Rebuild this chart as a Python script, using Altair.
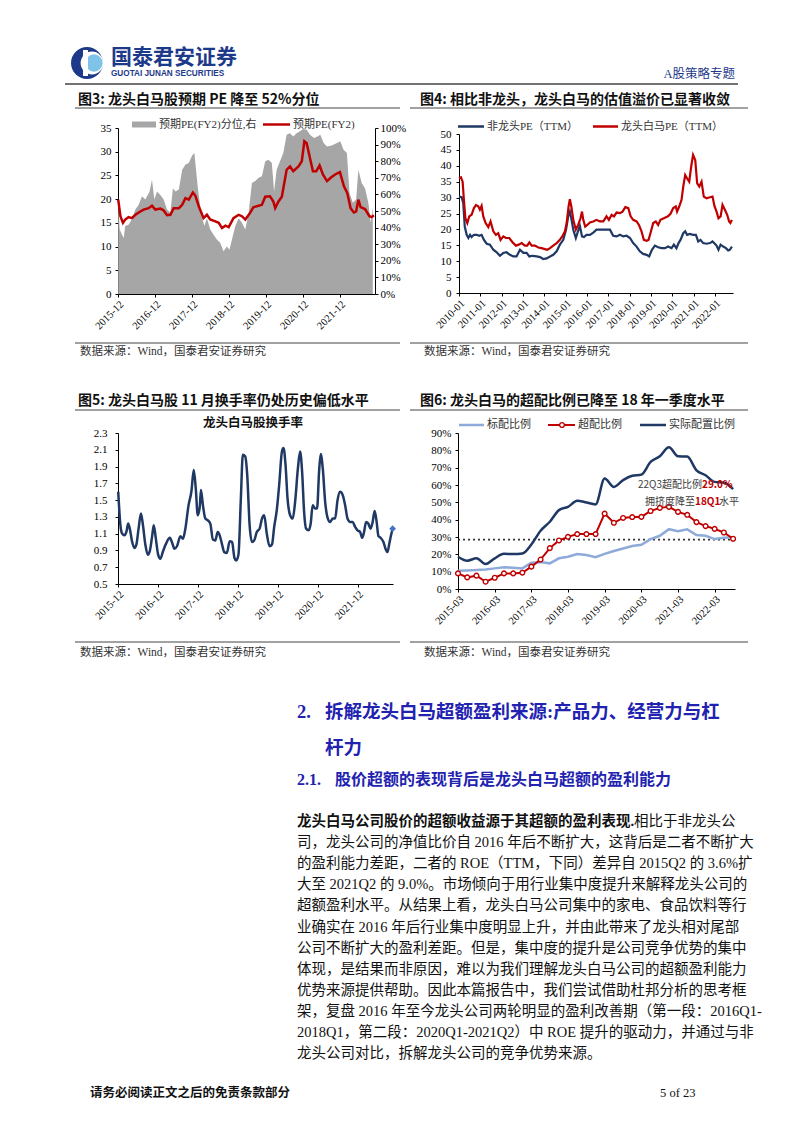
import altair as alt
import pandas as pd

SERIF = "Liberation Serif, Noto Sans CJK SC"
SANS = "Noto Sans CJK SC"
NAVY = "#1f3864"
RED = "#c00000"
LBLUE = "#8eaadb"
GREY = "#a6a6a6"
HEAD_BLUE = "#1d3a8a"
SEC_BLUE = "#2222b0"

# ---------------- data (decimal years) ----------------
# Fig 3: forward PE (FY2) and its percentile
f3_pe_t = [2015.92, 2015.98, 2016.05, 2016.11, 2016.20, 2016.29, 2016.385, 2016.52, 2016.61, 2016.745,
           2016.835, 2016.925, 2017.06, 2017.15, 2017.24, 2017.33, 2017.42, 2017.56, 2017.65, 2017.74,
           2017.83, 2017.94, 2018.01, 2018.10, 2018.23, 2018.32, 2018.41, 2018.55, 2018.64, 2018.73,
           2018.82, 2018.91, 2019.04, 2019.18, 2019.27, 2019.36, 2019.49, 2019.58, 2019.72, 2019.81,
           2019.90, 2020.03, 2020.12, 2020.17, 2020.26, 2020.35, 2020.48, 2020.57, 2020.66, 2020.80,
           2020.89, 2020.96, 2021.02, 2021.10, 2021.19, 2021.28, 2021.37, 2021.46, 2021.57, 2021.67,
           2021.79, 2021.92, 2022.03, 2022.12, 2022.21, 2022.30, 2022.36, 2022.42, 2022.48, 2022.60,
           2022.72, 2022.78, 2022.84]
f3_pe = [19.9, 16.4, 15.0, 15.7, 16.2, 16.0, 16.7, 17.4, 17.8, 18.1,
         18.6, 17.8, 18.0, 17.6, 16.6, 16.7, 18.1, 18.1, 18.8, 20.2,
         19.9, 21.4, 20.7, 18.5, 16.0, 16.7, 15.7, 15.3, 15.0, 13.9,
         14.4, 14.1, 16.0, 16.7, 16.4, 15.7, 17.1, 18.3, 18.6, 18.8,
         20.5, 20.6, 19.5, 18.1, 19.5, 20.5, 26.2, 26.9, 25.9, 26.9,
         28.0, 32.2, 31.8, 29.0, 25.9, 25.9, 27.1, 25.2, 23.8, 24.5,
         25.2, 25.7, 22.7, 21.3, 18.1, 17.2, 17.4, 19.9, 18.3, 17.9,
         16.4, 16.2, 16.6]
f3_pct_t = [2015.92, 2015.96, 2016.025, 2016.07, 2016.11, 2016.20, 2016.29, 2016.385, 2016.475, 2016.565,
            2016.655, 2016.77, 2016.835, 2016.90, 2016.97, 2017.06, 2017.15, 2017.24, 2017.33, 2017.40,
            2017.47, 2017.56, 2017.65, 2017.74, 2017.83, 2017.92, 2017.98, 2018.07, 2018.16, 2018.25,
            2018.32, 2018.41, 2018.50, 2018.59, 2018.68, 2018.77, 2018.86, 2018.93, 2018.999, 2019.09,
            2019.18, 2019.27, 2019.36, 2019.45, 2019.54, 2019.63, 2019.72, 2019.81, 2019.90, 2019.99,
            2020.08, 2020.14, 2020.21, 2020.30, 2020.39, 2020.48, 2020.57, 2020.66, 2020.75, 2020.84,
            2020.93, 2021.02, 2021.11, 2021.22, 2021.31, 2021.39, 2021.48, 2021.57, 2021.70, 2021.84,
            2021.93, 2022.02, 2022.11, 2022.18, 2022.27, 2022.36, 2022.42, 2022.51, 2022.60, 2022.69,
            2022.755, 2022.81]
f3_pct = [56.9, 38.9, 35.7, 33.7, 40.9, 41.7, 44.9, 50.9, 53.7, 58.9,
          56.9, 61.7, 68.9, 56.9, 61.7, 59.7, 56.9, 50.9, 48.9, 63.7,
          61.7, 62.9, 74.9, 78.0, 78.9, 83.4, 84.9, 64.9, 48.9, 40.9,
          45.7, 38.9, 35.7, 32.9, 30.9, 25.7, 28.6, 26.6, 32.9, 40.9,
          45.7, 42.9, 38.9, 48.9, 66.9, 68.0, 70.0, 70.9, 80.0, 80.9,
          78.9, 61.7, 74.9, 80.0, 84.9, 96.0, 96.9, 94.9, 96.9, 98.0,
          99.4, 98.9, 96.0, 94.0, 94.9, 96.0, 90.9, 88.9, 89.4, 90.9,
          92.0, 86.9, 84.9, 60.9, 54.9, 56.9, 74.9, 66.9, 63.7, 54.9,
          42.9, 52.0]

# Fig 4: PE (TTM) of leaders vs non-leaders
f4_lead_t = [2010.00, 2010.09, 2010.17, 2010.23, 2010.30, 2010.39, 2010.48, 2010.59, 2010.70, 2010.80,
             2010.91, 2010.98, 2011.06, 2011.14, 2011.25, 2011.375, 2011.48, 2011.61, 2011.73, 2011.84,
             2011.95, 2012.08, 2012.20, 2012.36, 2012.52, 2012.67, 2012.80, 2012.94, 2013.09, 2013.20,
             2013.30, 2013.41, 2013.56, 2013.72, 2013.875, 2014.03, 2014.14, 2014.27, 2014.42, 2014.58,
             2014.73, 2014.86, 2014.97, 2015.05, 2015.14, 2015.20, 2015.27, 2015.36, 2015.48, 2015.59,
             2015.70, 2015.77, 2015.83, 2015.92, 2016.02, 2016.14, 2016.30, 2016.45, 2016.61, 2016.77,
             2016.92, 2017.03, 2017.16, 2017.27, 2017.39, 2017.55, 2017.67, 2017.80, 2017.94, 2018.05,
             2018.17, 2018.33, 2018.44, 2018.56, 2018.67, 2018.80, 2018.89, 2018.98, 2019.11, 2019.23,
             2019.34, 2019.45, 2019.61, 2019.80, 2019.92, 2020.05, 2020.17, 2020.23, 2020.33, 2020.44,
             2020.52, 2020.61, 2020.70, 2020.80, 2020.89, 2020.98, 2021.08, 2021.17, 2021.27, 2021.375,
             2021.48, 2021.61, 2021.77, 2021.89, 2021.98, 2022.08, 2022.17, 2022.27, 2022.36, 2022.47,
             2022.58, 2022.67, 2022.73, 2022.80]
f4_lead = [36.1, 36.4, 35.0, 29.3, 23.5, 22.0, 24.1, 24.6, 26.7, 27.7,
           27.2, 26.2, 27.4, 24.1, 22.0, 20.7, 22.5, 19.4, 18.3, 18.8,
           16.7, 17.8, 17.3, 17.3, 15.9, 14.9, 15.2, 15.7, 14.9, 14.9,
           15.9, 14.9, 14.9, 14.3, 14.1, 13.8, 13.6, 14.1, 14.9, 15.7,
           16.7, 18.0, 19.4, 22.0, 27.2, 29.5, 27.2, 23.0, 19.9, 21.4,
           23.5, 25.6, 23.0, 20.9, 21.4, 22.2, 22.5, 23.0, 22.5, 22.5,
           24.1, 23.0, 24.6, 24.1, 25.3, 25.1, 25.6, 27.0, 26.7, 24.1,
           23.0, 22.5, 21.4, 19.4, 16.7, 16.4, 16.7, 18.8, 22.0, 22.5,
           21.4, 23.0, 23.5, 24.1, 24.9, 26.7, 27.2, 25.6, 27.2, 29.3,
           33.5, 37.1, 36.0, 35.0, 39.7, 43.4, 41.8, 34.5, 33.5, 35.0,
           30.3, 29.8, 30.1, 30.3, 27.4, 25.6, 23.5, 24.1, 27.7, 26.2,
           24.6, 22.5, 22.0, 23.0]
f4_other_t = [2010.00, 2010.125, 2010.20, 2010.27, 2010.36, 2010.44, 2010.52, 2010.59, 2010.70, 2010.83,
              2010.95, 2011.06, 2011.17, 2011.30, 2011.45, 2011.61, 2011.77, 2011.92, 2012.08, 2012.23,
              2012.39, 2012.55, 2012.70, 2012.86, 2013.02, 2013.17, 2013.30, 2013.45, 2013.64, 2013.80,
              2013.95, 2014.11, 2014.27, 2014.42, 2014.58, 2014.73, 2014.89, 2015.02, 2015.125, 2015.20,
              2015.28, 2015.36, 2015.48, 2015.58, 2015.67, 2015.77, 2015.86, 2015.98, 2016.14, 2016.30,
              2016.45, 2016.61, 2016.77, 2016.92, 2017.08, 2017.23, 2017.39, 2017.55, 2017.70, 2017.86,
              2018.02, 2018.17, 2018.33, 2018.48, 2018.64, 2018.80, 2018.92, 2019.05, 2019.19, 2019.34,
              2019.50, 2019.66, 2019.81, 2019.97, 2020.08, 2020.20, 2020.30, 2020.39, 2020.52, 2020.61,
              2020.70, 2020.83, 2020.98, 2021.11, 2021.22, 2021.33, 2021.45, 2021.61, 2021.77, 2021.89,
              2022.00, 2022.08, 2022.17, 2022.27, 2022.39, 2022.52, 2022.625, 2022.70, 2022.80]
f4_other = [30.3, 30.1, 28.2, 20.9, 18.3, 17.3, 18.3, 17.6, 18.3, 18.3,
            18.0, 18.3, 16.7, 15.5, 15.2, 13.6, 12.8, 11.7, 12.6, 12.8,
            12.0, 11.5, 11.5, 13.6, 12.6, 12.6, 11.5, 11.7, 11.5, 11.3,
            10.7, 10.9, 11.5, 12.0, 13.1, 15.2, 16.7, 19.9, 24.1, 25.6,
            23.0, 19.9, 17.3, 19.4, 21.1, 17.8, 17.6, 18.3, 18.3, 19.0,
            19.9, 19.9, 19.9, 19.9, 19.9, 18.0, 17.8, 18.3, 17.8, 18.0,
            17.3, 15.7, 14.6, 13.1, 12.3, 12.0, 11.5, 13.6, 14.9, 14.4,
            14.1, 14.1, 14.6, 14.1, 15.2, 14.1, 15.7, 16.7, 18.8, 19.4,
            18.3, 18.6, 18.3, 18.3, 16.2, 16.7, 15.7, 15.5, 15.7, 16.2,
            15.5, 14.9, 13.6, 15.2, 14.6, 14.1, 13.4, 13.6, 14.6]

# Fig 5: turnover of leaders
f5_t = [2015.92, 2015.975, 2016.02, 2016.075, 2016.125, 2016.17, 2016.21, 2016.27, 2016.325, 2016.375,
        2016.43, 2016.49, 2016.54, 2016.60, 2016.66, 2016.71, 2016.77, 2016.81, 2016.86, 2016.92,
        2016.975, 2017.04, 2017.125, 2017.21, 2017.27, 2017.325, 2017.39, 2017.475, 2017.54, 2017.60,
        2017.68, 2017.75, 2017.81, 2017.86, 2017.91, 2017.96, 2017.99, 2018.04, 2018.10, 2018.16,
        2018.225, 2018.29, 2018.35, 2018.41, 2018.46, 2018.52, 2018.575, 2018.64, 2018.71, 2018.77,
        2018.83, 2018.875, 2018.93, 2018.99, 2019.04, 2019.10, 2019.15, 2019.21, 2019.27, 2019.325,
        2019.39, 2019.46, 2019.52, 2019.575, 2019.64, 2019.71, 2019.77, 2019.825, 2019.89, 2019.95,
        2020.02, 2020.06, 2020.11, 2020.16, 2020.225, 2020.29, 2020.35, 2020.42, 2020.475, 2020.525,
        2020.575, 2020.625, 2020.69, 2020.74, 2020.79, 2020.85, 2020.90, 2020.95, 2020.99, 2021.04,
        2021.10, 2021.167, 2021.225, 2021.29, 2021.35, 2021.41, 2021.475, 2021.54, 2021.60, 2021.66,
        2021.725, 2021.79, 2021.85, 2021.91, 2021.975, 2022.03, 2022.075, 2022.125, 2022.18, 2022.24,
        2022.29, 2022.34, 2022.39, 2022.435, 2022.49, 2022.56, 2022.62, 2022.66, 2022.71, 2022.75,
        2022.79]
f5_v = [1.60, 1.20, 1.10, 1.08, 1.12, 1.22, 1.16, 1.00, 0.93, 0.97,
        1.16, 1.34, 1.20, 0.97, 0.85, 0.89, 1.07, 1.20, 1.05, 0.85,
        0.80, 0.89, 0.99, 1.05, 0.99, 0.92, 0.95, 1.07, 1.04, 1.16,
        1.44, 1.60, 1.86, 1.64, 1.32, 1.42, 1.62, 1.44, 1.28, 1.26,
        1.22, 1.03, 1.02, 1.12, 1.08, 0.97, 0.88, 0.87, 1.01, 1.00,
        0.81, 0.78, 0.85, 1.52, 2.04, 2.02, 1.80, 1.20, 1.00, 1.02,
        1.12, 1.16, 1.28, 1.32, 1.10, 0.95, 0.97, 1.18, 1.38, 1.68,
        2.08, 2.12, 1.92, 1.52, 1.32, 1.28, 1.48, 1.88, 2.08, 1.84,
        1.36, 1.16, 1.14, 1.22, 1.44, 1.40, 1.40, 1.84, 2.05, 1.88,
        1.48, 1.28, 1.24, 1.28, 1.28, 1.50, 1.60, 1.56, 1.44, 1.28,
        1.24, 1.24, 1.18, 1.14, 1.12, 1.05, 1.12, 1.24, 1.22, 1.16,
        1.24, 1.37, 1.24, 1.07, 1.05, 1.00, 0.91, 0.88, 0.99, 1.08,
        1.16]

# Fig 6: quarterly allocation ratios (%)
f6_q = ["2015-03", "2015-06", "2015-09", "2015-12", "2016-03", "2016-06", "2016-09", "2016-12",
        "2017-03", "2017-06", "2017-09", "2017-12", "2018-03", "2018-06", "2018-09", "2018-12",
        "2019-03", "2019-06", "2019-09", "2019-12", "2020-03", "2020-06", "2020-09", "2020-12",
        "2021-03", "2021-06", "2021-09", "2021-12", "2022-03", "2022-06", "2022-09"]
f6_std = [10.6, 10.7, 10.9, 11.3, 11.9, 12.5, 12.3, 11.9, 15.2, 15.5, 14.8, 17.7, 18.6, 20.2, 19.6, 18.4,
          20.3, 21.9, 23.4, 24.8, 25.5, 28.8, 30.7, 34.5, 33.4, 34.4, 31.1, 30.7, 28.8, 29.6, 29.8]
f6_over = [9.0, 6.7, 7.7, 4.2, 6.5, 9.0, 9.0, 9.4, 12.9, 17.0, 23.6, 28.0, 30.1, 31.7, 31.7, 31.7,
           43.5, 38.2, 41.0, 41.5, 41.6, 45.0, 46.8, 47.4, 44.5, 42.8, 38.6, 36.3, 34.7, 32.6, 29.0]
f6_act = [18.6, 16.3, 17.7, 14.4, 17.7, 20.3, 20.2, 20.5, 25.7, 33.6, 38.8, 45.5, 47.4, 50.9, 49.9, 48.8,
          63.7, 58.9, 62.8, 65.3, 66.0, 73.3, 76.6, 81.8, 76.6, 76.4, 68.5, 65.6, 61.8, 61.4, 57.6]
f6_ref = [28.5]

body_lines = [
    "司，龙头公司的净值比价自 2016 年后不断扩大，这背后是二者不断扩大",
    "的盈利能力差距，二者的 ROE（TTM，下同）差异自 2015Q2 的 3.6%扩",
    "大至 2021Q2 的 9.0%。市场倾向于用行业集中度提升来解释龙头公司的",
    "超额盈利水平。从结果上看，龙头白马公司集中的家电、食品饮料等行",
    "业确实在 2016 年后行业集中度明显上升，并由此带来了龙头相对尾部",
    "公司不断扩大的盈利差距。但是，集中度的提升是公司竞争优势的集中",
    "体现，是结果而非原因，难以为我们理解龙头白马公司的超额盈利能力",
    "优势来源提供帮助。因此本篇报告中，我们尝试借助杜邦分析的思考框",
    "架，复盘 2016 年至今龙头公司两轮明显的盈利改善期（第一段：2016Q1-",
    "2018Q1，第二段：2020Q1-2021Q2）中 ROE 提升的驱动力，并通过与非",
    "龙头公司对比，拆解龙头公司的竞争优势来源。",
]


def to_dates(years):
    out = []
    for v in years:
        y = int(v)
        out.append(pd.Timestamp(year=y, month=1, day=1) + pd.Timedelta(days=(v - y) * 365.25))
    return out


def D(y, m, d=1):
    return alt.DateTime(year=y, month=m, date=d)


AX = dict(title=None, grid=False, domainColor="#000", tickColor="#000", labelColor="#000",
          labelFont=SERIF, tickSize=3, labelOverlap=False)


def xaxis(vals):
    return alt.Axis(values=vals, format="%Y-%m", labelAngle=315, labelAlign="right",
                    labelBaseline="top", labelFontSize=10.5, labelPadding=2, **AX)


def yaxis(vals, pad, orient="left", expr=None, fmt=None):
    kw = dict(values=vals, orient=orient, labelFontSize=11, labelPadding=pad)
    if expr:
        kw["labelExpr"] = expr
    if fmt:
        kw["format"] = fmt
    return alt.Axis(**kw, **AX)


# ---------------- Fig 3 ----------------
df3a = pd.DataFrame({"date": to_dates(f3_pct_t), "pct": f3_pct})
df3b = pd.DataFrame({"date": to_dates(f3_pe_t), "pe": f3_pe})
x3 = alt.X("date:T", scale=alt.Scale(domain=[D(2015, 12), D(2022, 11, 15)]),
           axis=xaxis([D(y, 12) for y in range(2015, 2022)]))
area3 = alt.Chart(df3a).mark_area(color=GREY, opacity=1).encode(
    x=x3,
    y=alt.Y("pct:Q", scale=alt.Scale(domain=[0, 100], nice=False),
            axis=yaxis(list(range(0, 101, 10)), 2, orient="right", expr="datum.value + '%'")))
line3 = alt.Chart(df3b).mark_line(color=RED, strokeWidth=2.5).encode(
    x=x3,
    y=alt.Y("pe:Q", scale=alt.Scale(domain=[0, 35], nice=False),
            axis=yaxis(list(range(0, 36, 5)), 4)))
fig3 = alt.layer(area3, line3).resolve_scale(y="independent").properties(width=257, height=166)

# ---------------- Fig 4 ----------------
df4a = pd.DataFrame({"date": to_dates(f4_other_t), "v": f4_other})
df4b = pd.DataFrame({"date": to_dates(f4_lead_t), "v": f4_lead})
x4 = alt.X("date:T", scale=alt.Scale(domain=[D(2010, 1), D(2022, 11, 8)]),
           axis=xaxis([D(y, 1) for y in range(2010, 2023)]))
y4 = alt.Y("v:Q", scale=alt.Scale(domain=[0, 50], nice=False), axis=yaxis(list(range(0, 51, 5)), 5))
fig4 = alt.layer(
    alt.Chart(df4a).mark_line(color=NAVY, strokeWidth=2.2).encode(x=x4, y=y4),
    alt.Chart(df4b).mark_line(color=RED, strokeWidth=2.2).encode(x=x4, y=y4),
).properties(width=274, height=159)

# ---------------- Fig 5 ----------------
df5 = pd.DataFrame({"date": to_dates(f5_t), "v": f5_v})
x5 = alt.X("date:T", scale=alt.Scale(domain=[D(2015, 12), D(2022, 10, 20)]),
           axis=xaxis([D(y, 12) for y in range(2015, 2022)]))
y5 = alt.Y("v:Q", scale=alt.Scale(domain=[0.5, 2.3], nice=False),
           axis=yaxis([0.5, 0.7, 0.9, 1.1, 1.3, 1.5, 1.7, 1.9, 2.1, 2.3], 8, fmt=".1f"))
fig5 = alt.layer(
    alt.Chart(df5).mark_line(color=NAVY, strokeWidth=2.5, interpolate="monotone").encode(x=x5, y=y5),
    alt.Chart(df5.tail(1)).mark_point(shape="diamond", filled=True, color="#4472c4", size=45,
                                      opacity=1).encode(x=x5, y=y5),
).properties(width=275, height=151)

# ---------------- Fig 6 ----------------
df6 = pd.DataFrame({"date": pd.to_datetime([q + "-01" for q in f6_q]),
                    "std": f6_std, "over": f6_over, "act": f6_act})
x6 = alt.X("date:T", scale=alt.Scale(domain=[D(2015, 3), D(2022, 9, 20)]),
           axis=xaxis([D(y, 3) for y in range(2015, 2023)]))
y6s = alt.Scale(domain=[0, 90], nice=False)
y6ax = yaxis(list(range(0, 91, 10)), 4, expr="datum.value + '%'")
base6 = alt.Chart(df6)
ann_style = dict(font=SANS, fontSize=10, baseline="middle")
last6 = "datum.over == 29.0"
fig6 = alt.layer(
    alt.Chart(pd.DataFrame({"r": f6_ref})).mark_rule(color="#333", strokeWidth=1.6, strokeDash=[2, 3]).encode(
        y=alt.Y("r:Q", scale=y6s, axis=y6ax)),
    base6.mark_line(color=LBLUE, strokeWidth=2.5).encode(x=x6, y=alt.Y("std:Q", scale=y6s, axis=y6ax)),
    base6.mark_line(color=NAVY, strokeWidth=2.5, interpolate="monotone").encode(
        x=x6, y=alt.Y("act:Q", scale=y6s, axis=y6ax)),
    base6.mark_line(color=RED, strokeWidth=2).encode(x=x6, y=alt.Y("over:Q", scale=y6s, axis=y6ax)),
    base6.mark_point(shape="circle", filled=True, fill="white", stroke=RED, strokeWidth=1.4, size=22,
                     opacity=1).encode(x=x6, y=alt.Y("over:Q", scale=y6s, axis=y6ax)),
    base6.mark_text(align="right", color="#404040", **ann_style).encode(
        x=alt.value(244), y=alt.value(52), text=alt.value("22Q3超配比例")).transform_filter(last6),
    base6.mark_text(align="left", color=RED, fontWeight="bold", **ann_style).encode(
        x=alt.value(244), y=alt.value(52), text=alt.value("29.0%")).transform_filter(last6),
    base6.mark_text(align="left", color="#404040", **ann_style).encode(
        x=alt.value(187), y=alt.value(69), text=alt.value("拥挤度降至")).transform_filter(last6),
    base6.mark_text(align="left", color=RED, fontWeight="bold", **ann_style).encode(
        x=alt.value(237), y=alt.value(69), text=alt.value("18Q1")).transform_filter(last6),
    base6.mark_text(align="left", color="#404040", **ann_style).encode(
        x=alt.value(261), y=alt.value(69), text=alt.value("水平")).transform_filter(last6),
).properties(width=277, height=156)


# ---------------- page helpers ----------------
def spacer(w, h):
    return alt.Chart(pd.DataFrame({"a": [0]})).mark_rect(opacity=0).encode(
        x=alt.value(0), x2=alt.value(w), y=alt.value(0), y2=alt.value(h)).properties(width=w, height=h)


def PX(f):
    return alt.X(f, scale=None, axis=None)


def PY(f):
    return alt.Y(f, scale=None, axis=None)


def texts(items, **kw):
    df = pd.DataFrame(items, columns=["x", "y", "t"])
    kw.setdefault("baseline", "middle")
    kw.setdefault("align", "left")
    return alt.Chart(df).mark_text(**kw).encode(x=PX("x:Q"), y=PY("y:Q"), text="t:N")


def rules(items, color="#333", width=1.0):
    df = pd.DataFrame(items, columns=["x", "x2", "y"])
    return alt.Chart(df).mark_rule(color=color, strokeWidth=width).encode(
        x=PX("x:Q"), x2="x2:Q", y=PY("y:Q"))


def dots(items, **kw):
    df = pd.DataFrame(items, columns=["x", "y"])
    return alt.Chart(df).mark_point(opacity=1, **kw).encode(x=PX("x:Q"), y=PY("y:Q"))


def rects(items, color):
    df = pd.DataFrame(items, columns=["x", "x2", "y", "y2"])
    return alt.Chart(df).mark_rect(color=color).encode(x=PX("x:Q"), x2="x2:Q", y=PY("y:Q"), y2="y2:Q")


SRC = "数据来源：Wind，国泰君安证券研究"
TITLE_KW = dict(font=SANS, fontSize=14, fontWeight="bold", color="#111")
LEG_KW = dict(font=SERIF, fontSize=11, color="#333")

# ---------------- Row 0: header + titles of fig3/fig4 + legends ----------------
row0 = alt.layer(
    dots([(87, 63)], shape="circle", filled=True, color=HEAD_BLUE, size=1020),
    dots([(92, 63)], shape="circle", filled=True, color="white", size=520),
    dots([(94, 63)], shape="circle", filled=True, color="#7fc4e8", size=300),
    rects([(83, 88, 50, 76)], "white"),
    texts([(111, 58, "国泰君安证券")], font=SANS, fontSize=21, fontWeight="bold", color=HEAD_BLUE),
    texts([(111, 74, "GUOTAI JUNAN SECURITIES")], font="Liberation Sans", fontSize=8.2, fontWeight="bold",
          color=HEAD_BLUE),
    texts([(735, 74, "A股策略专题")], font=SERIF, fontSize=12.5, color=HEAD_BLUE, align="right"),
    rules([(65, 738, 84)], color="#444", width=1.5),
    texts([(78, 100, "图3: 龙头白马股预期 PE 降至 52%分位"),
           (420, 100, "图4: 相比非龙头，龙头白马的估值溢价已显著收敛")], **TITLE_KW),
    rules([(75, 400, 108), (410, 748, 108)], color="#444", width=1),
    rects([(132, 156, 121.5, 127.5)], GREY),
    rules([(263, 290, 124.5)], color=RED, width=2.5),
    rules([(458, 484, 126.5)], color=NAVY, width=2.5),
    rules([(593, 618, 126.5)], color=RED, width=2.5),
    texts([(159, 124.5, "预期PE(FY2)分位,右"), (293, 124.5, "预期PE(FY2)"),
           (487, 126.5, "非龙头PE（TTM）"), (621, 126.5, "龙头白马PE（TTM）")], **LEG_KW),
).properties(width=802, height=128)

# ---------------- Row 1: fig3 + fig4 (nested concat counts as zero height -> spacer after) ----------------
row1 = alt.hconcat(
    spacer(118, 166), fig3, spacer(84, 166),
    alt.vconcat(spacer(274, 6), fig4, spacing=0, bounds="flush").resolve_scale(x="independent", y="independent"),
    spacing=0, bounds="flush",
).resolve_scale(x="independent", y="independent")

# ---------------- Row 2: sources, titles of fig5/fig6, legends ----------------
row2 = alt.layer(
    rules([(75, 400, 49), (410, 748, 49), (75, 400, 116), (410, 748, 116)], color="#444", width=1),
    texts([(80, 58, SRC), (424, 58, SRC)], font=SERIF, fontSize=11.5, color="#333"),
    texts([(78, 107, "图5: 龙头白马股 11 月换手率仍处历史偏低水平"),
           (420, 107, "图6: 龙头白马的超配比例已降至 18 年一季度水平")], **TITLE_KW),
    texts([(253, 129, "龙头白马股换手率")], font=SANS, fontSize=12.5, fontWeight="bold", color="#111",
          align="center"),
    rules([(459, 484, 131)], color=LBLUE, width=2.5),
    rules([(548, 575, 131)], color=RED, width=2),
    dots([(562, 131)], shape="circle", filled=True, fill="white", stroke=RED, strokeWidth=1.4, size=22),
    rules([(640, 666, 131)], color=NAVY, width=2.5),
    texts([(487, 131, "标配比例"), (578, 131, "超配比例"), (669, 131, "实际配置比例")], **LEG_KW),
).properties(width=802, height=139)

# ---------------- Row 3: fig5 + fig6 ----------------
row3 = alt.hconcat(
    spacer(118, 156), fig5, spacer(65, 156), fig6, spacing=0, bounds="flush",
).resolve_scale(x="independent", y="independent")

# ---------------- Row 4: sources, section text, footer ----------------
BODY_KW = dict(font=SERIF, fontSize=14.5, color="#111")
body_items = [(297, 233 + 21.1 * (i + 1), s) for i, s in enumerate(body_lines)]
row4 = alt.layer(
    rules([(75, 400, 53), (410, 748, 53)], color="#444", width=1),
    texts([(80, 64, SRC), (424, 64, SRC)], font=SERIF, fontSize=11.5, color="#333"),
    texts([(297, 123, "2."), (325, 123, "拆解龙头白马超额盈利来源:产品力、经营力与杠"), (325, 159, "杆力")],
          font=SERIF, fontSize=18.5, fontWeight="bold", color=SEC_BLUE),
    texts([(297, 191, "2.1."), (335, 191, "股价超额的表现背后是龙头白马超额的盈利能力")],
          font=SERIF, fontSize=16, fontWeight="bold", color=SEC_BLUE),
    texts([(297, 233, "龙头白马公司股价的超额收益源于其超额的盈利表现.")], font=SERIF, fontSize=14.5,
          fontWeight="bold", color="#111"),
    texts([(634, 233, "相比于非龙头公")], **BODY_KW),
    texts(body_items, **BODY_KW),
    texts([(90, 504, "请务必阅读正文之后的免责条款部分")], font=SANS, fontSize=12.5, fontWeight="bold",
          color="#111"),
    texts([(660, 504, "5 of 23")], font=SERIF, fontSize=12.5, color="#111"),
).properties(width=802, height=544)

chart = alt.vconcat(
    row0, row1, spacer(802, 166), row2, row3, spacer(802, 156), row4,
    spacing=0, bounds="flush", padding=0,
).resolve_scale(x="independent", y="independent").configure_view(stroke=None)

chart.save("out.html", embed_options={"renderer": "svg", "actions": False})
